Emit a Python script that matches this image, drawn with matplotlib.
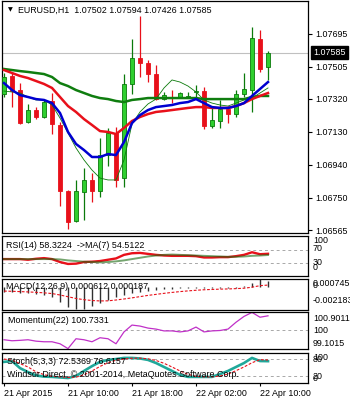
import numpy as np
import matplotlib.pyplot as plt

plt.rcParams['font.family'] = ['Liberation Sans', 'DejaVu Sans']
FS = 6.4

# EURUSD H1 candles, 21 Apr 02:00 .. 22 Apr 11:00
opens = [1.07347, 1.07451, 1.07370, 1.07186, 1.07255, 1.07215, 1.07307, 1.07169, 1.06789, 1.06617,
         1.06784, 1.06853, 1.06789, 1.06996, 1.07123, 1.06864, 1.07405, 1.07554, 1.07525, 1.07462,
         1.07318, 1.07330, 1.07330, 1.07330, 1.07359, 1.07364, 1.07163, 1.07192, 1.07261, 1.07232,
         1.07347, 1.07370, 1.07663, 1.07502]
highs = [1.07468, 1.07468, 1.07410, 1.07290, 1.07272, 1.07313, 1.07353, 1.07186, 1.06795, 1.06853,
         1.06922, 1.06893, 1.07094, 1.07152, 1.07157, 1.07462, 1.07663, 1.07796, 1.07543, 1.07514,
         1.07359, 1.07370, 1.07359, 1.07359, 1.07399, 1.07387, 1.07272, 1.07313, 1.07278, 1.07370,
         1.07468, 1.07732, 1.07715, 1.07594]
lows = [1.07330, 1.07272, 1.07175, 1.07180, 1.07203, 1.07209, 1.07117, 1.06703, 1.06571, 1.06611,
        1.06623, 1.06726, 1.06755, 1.06933, 1.06812, 1.06812, 1.07347, 1.07445, 1.07416, 1.07313,
        1.07313, 1.07295, 1.07327, 1.07330, 1.07330, 1.07146, 1.07152, 1.07152, 1.07180, 1.07215,
        1.07330, 1.07244, 1.07474, 1.07426]
closes = [1.07445, 1.07364, 1.07180, 1.07255, 1.07215, 1.07301, 1.07175, 1.06789, 1.06611, 1.06789,
          1.06853, 1.06789, 1.06996, 1.07123, 1.06853, 1.07405, 1.07554, 1.07525, 1.07462, 1.07318,
          1.07341, 1.07324, 1.07353, 1.07336, 1.07364, 1.07163, 1.07198, 1.07261, 1.07232, 1.07347,
          1.07376, 1.07669, 1.07491, 1.07585]

# moving averages
ma_blue = [1.07410, 1.07370, 1.07341, 1.07330, 1.07318, 1.07313, 1.07295, 1.07238, 1.07129, 1.07060,
           1.07025, 1.06985, 1.06985, 1.07002, 1.06996, 1.07071, 1.07180, 1.07226, 1.07255, 1.07272,
           1.07278, 1.07284, 1.07295, 1.07301, 1.07318, 1.07295, 1.07272, 1.07267, 1.07267, 1.07278,
           1.07295, 1.07336, 1.07376, 1.07416]
ma_red = [1.07485, 1.07468, 1.07451, 1.07439, 1.07422, 1.07405, 1.07382, 1.07330, 1.07278, 1.07244,
          1.07203, 1.07169, 1.07134, 1.07129, 1.07117, 1.07152, 1.07192, 1.07215, 1.07232, 1.07244,
          1.07249, 1.07255, 1.07261, 1.07267, 1.07272, 1.07272, 1.07267, 1.07267, 1.07267, 1.07278,
          1.07295, 1.07318, 1.07336, 1.07353]
ma_green = [1.07491, 1.07485, 1.07479, 1.07474, 1.07468, 1.07462, 1.07445, 1.07410, 1.07393, 1.07370,
            1.07353, 1.07336, 1.07324, 1.07318, 1.07307, 1.07301, 1.07313, 1.07318, 1.07324, 1.07324,
            1.07324, 1.07324, 1.07324, 1.07324, 1.07324, 1.07318, 1.07318, 1.07318, 1.07318, 1.07318,
            1.07318, 1.07330, 1.07336, 1.07336]
ma_thin = [1.07364, 1.07359, 1.07353, 1.07330, 1.07313, 1.07313, 1.07284, 1.07209, 1.07123, 1.07037,
           1.06968, 1.06910, 1.06864, 1.06853, 1.06853, 1.06968, 1.07175, 1.07244, 1.07290, 1.07318,
           1.07382, 1.07428, 1.07416, 1.07393, 1.07359, 1.07313, 1.07295, 1.07284, 1.07278, 1.07295,
           1.07313, 1.07324, 1.07353, 1.07382]

rsi = [42, 42, 42, 40, 43, 45, 42, 33, 27, 28, 33, 34, 36, 40, 44, 55, 60, 61, 58, 55,
       53, 52, 52, 52, 51, 47, 47, 48, 48, 51, 55, 63, 57, 58.32]
rsi_ma = [42, 42, 42, 42, 42, 42, 42, 41, 38, 36, 34, 33, 32, 33, 35, 38, 42, 46, 50, 53,
          55, 56, 55, 54, 53, 52, 51, 50, 49, 49, 50, 52, 53, 54.51]

macd = [-0.00046, -0.00046, -0.00056, -0.00061, -0.00068, -0.00078, -0.00095, -0.00143, -0.00195, -0.00218,
        -0.00210, -0.00185, -0.00159, -0.00127, -0.00095, -0.00078, -0.00061, -0.00045, -0.00035, -0.00028,
        -0.00022, -0.00018, -0.00014, -0.00010, -0.00006, -0.00008, -0.00010, -0.00010, -0.00009, -0.00005,
        0.00005, 0.00040, 0.000745, 0.000612]
macd_signal = [-0.00040, -0.00042, -0.00045, -0.00048, -0.00052, -0.00057, -0.00064, -0.00078, -0.00095, -0.00112,
               -0.00124, -0.00132, -0.00136, -0.00135, -0.00127, -0.00117, -0.00106, -0.00094, -0.00082, -0.00072,
               -0.00062, -0.00053, -0.00045, -0.00038, -0.00032, -0.00027, -0.00024, -0.00021, -0.00019, -0.00016,
               -0.00012, -0.00002, 0.00013, 0.000187]

momentum = [99.54, 99.49, 99.51, 99.54, 99.47, 99.44, 99.44, 99.34, 99.10, 99.59,
            99.54, 99.44, 99.64, 99.59, 99.34, 99.93, 100.27, 100.22, 100.12, 100.07,
            99.98, 99.98, 99.93, 99.98, 100.17, 99.93, 99.98, 100.00, 100.07, 100.41,
            100.70, 100.90, 100.66, 100.73]

stoch_k = [70, 73, 48, 34, 22, 18, 17, 15, 13, 20, 38, 55, 70, 77, 80, 84, 84, 82, 77, 66,
           52, 38, 24, 17, 17, 17, 17, 27, 38, 52, 66, 84, 73, 72.54]
stoch_d = [80, 76, 64, 52, 35, 25, 19, 17, 15, 16, 24, 38, 54, 67, 76, 80, 83, 83, 81, 75,
           65, 52, 38, 26, 19, 17, 17, 20, 27, 39, 52, 67, 78, 76.62]

price_ticks = [1.07695, 1.07505, 1.07320, 1.07130, 1.06940, 1.06750, 1.06565]
last_price = 1.07585
time_bars = [0, 8, 16, 24, 32]
time_labels = ["21 Apr 2015", "21 Apr 10:00", "21 Apr 18:00", "22 Apr 02:00", "22 Apr 10:00"]

W, H = 350, 400
fig = plt.figure(figsize=(W / 100, H / 100), dpi=100)


def panel(x0, y0, x1, y1):
    ax = fig.add_axes([x0 / W, 1 - y1 / H, (x1 - x0) / W, (y1 - y0) / H])
    ax.set_xlim(-0.25, 38)
    ax.set_xticks([])
    ax.set_yticks([])
    for s in ax.spines.values():
        s.set_linewidth(0.9)
        s.set_color('black')
    return ax


def rlabel(ax, frac, txt, va='center'):
    ax.text(1.016, frac, txt, transform=ax.transAxes, fontsize=FS, va=va, ha='left', clip_on=False)


x = np.arange(len(opens))
o, h, l, c = map(np.array, (opens, highs, lows, closes))
up = c >= o

# main price panel
ax = panel(2, 1, 308, 233)
ax.set_ylim(1.06548, 1.07882)
ax.axhline(last_price, color='#c0c0c0', lw=0.8, zorder=1)
green_dark, green_fill, red = '#0b7a0b', '#2fcf2f', '#e8101a'
ax.vlines(x[up], l[up], h[up], color=green_dark, lw=0.9, zorder=2)
ax.vlines(x[~up], l[~up], h[~up], color=red, lw=0.9, zorder=2)
body_lo = np.minimum(o, c)
body_h = np.maximum(np.abs(c - o), 0.00003)
ax.bar(x[up], body_h[up], bottom=body_lo[up], width=0.6, color=green_fill,
       edgecolor=green_dark, lw=0.6, zorder=3)
ax.bar(x[~up], body_h[~up], bottom=body_lo[~up], width=0.6, color=red,
       edgecolor=red, lw=0.6, zorder=3)
ax.plot(x, ma_thin, color=green_dark, lw=0.6, zorder=4)
ax.plot(x, ma_green, color='#0f7d0f', lw=1.8, zorder=4)
ax.plot(x, ma_red, color='#e8101a', lw=1.8, zorder=4)
ax.plot(x, ma_blue, color='#0000d0', lw=1.8, zorder=4)
ax.yaxis.tick_right()
ax.set_yticks(price_ticks)
ax.set_yticklabels([f"{p:.5f}" for p in price_ticks])
ax.tick_params(axis='y', direction='out', length=3, width=0.8, pad=2, labelsize=FS)
ax.text(1.016, last_price, f"{last_price:.5f}", transform=ax.get_yaxis_transform(),
        fontsize=FS, color='white', va='center', ha='left', zorder=10, clip_on=False,
        bbox=dict(boxstyle='square,pad=0.25', fc='black', ec='black'))
ax.text(0.018, 0.962, "\u25bc", transform=ax.transAxes, fontsize=4.5, va='center',
        family='DejaVu Sans')
ax.text(0.052, 0.962, "EURUSD,H1  1.07502 1.07594 1.07426 1.07585", transform=ax.transAxes,
        fontsize=FS, va='center')

# RSI
ax = panel(2, 236, 308, 276)
ax.set_ylim(-10, 113)
for lev in (70, 30):
    ax.axhline(lev, color='#a8a8a8', lw=0.7, ls=(0, (3, 3)))
ax.plot(x, rsi, color='#e8101a', lw=1.7)
ax.plot(x, rsi_ma, color='#1a6a10', lw=1.4, alpha=0.6)
ax.text(0.012, 0.76, "RSI(14) 58.3224  ->MA(7) 54.5122", transform=ax.transAxes,
        fontsize=FS, va='center')
rlabel(ax, 0.88, "100")
rlabel(ax, 0.68, "70")
rlabel(ax, 0.34, "30")
rlabel(ax, 0.20, "0")

# MACD
ax = panel(2, 279, 308, 310)
ax.set_ylim(-0.002245, 0.00078)
ax.vlines(x, np.zeros(len(macd)), macd, colors='#303030', linewidths=1.0, zorder=2)
ax.plot(x, macd_signal, color='#e8101a', lw=0.8, ls=(0, (2.5, 1.5)), zorder=3)
ax.text(0.012, 0.76, "MACD(12,26,9) 0.000612 0.000187", transform=ax.transAxes,
        fontsize=FS, va='center')
rlabel(ax, 0.84, "0.000745")
rlabel(ax, 0.78, "0")
rlabel(ax, 0.32, "-0.002183")

# Momentum
ax = panel(2, 312, 308, 349)
ax.set_ylim(99.08, 100.92)
ax.axhline(100, color='#a8a8a8', lw=0.7, ls=(0, (3, 3)))
ax.plot(x, momentum, color='#c030c8', lw=0.9)
ax.text(0.02, 0.78, "Momentum(22) 100.7331", transform=ax.transAxes, fontsize=FS, va='center')
rlabel(ax, 0.83, "100.9011")
rlabel(ax, 0.50, "100")
rlabel(ax, 0.15, "99.1015")

# Stochastic
ax = panel(2, 353, 308, 383)
ax.set_ylim(-4.6, 101.4)
for lev in (80, 20):
    ax.axhline(lev, color='#a8a8a8', lw=0.7, ls=(0, (3, 3)))
ax.plot(x, stoch_k, color='#20a89a', lw=1.9)
ax.plot(x, stoch_d, color='#e8101a', lw=0.8, ls=(0, (2.5, 1.5)))
ax.text(0.016, 0.72, "Stoch(5,3,3) 72.5369 76.6157", transform=ax.transAxes,
        fontsize=FS, va='center')
ax.text(0.016, 0.28, "Windsor Direct, \u00a9 2001-2014, MetaQuotes Software Corp.",
        transform=ax.transAxes, fontsize=FS, va='center')
rlabel(ax, 0.86, "100")
rlabel(ax, 0.78, "80")
rlabel(ax, 0.22, "20")
rlabel(ax, 0.14, "0")
ax.set_xticks(time_bars)
ax.set_xticklabels(time_labels, ha='left')
ax.tick_params(axis='x', direction='out', length=2.5, width=0.8, pad=2, labelsize=FS)

fig.savefig("out.png", dpi=100, facecolor='white')
